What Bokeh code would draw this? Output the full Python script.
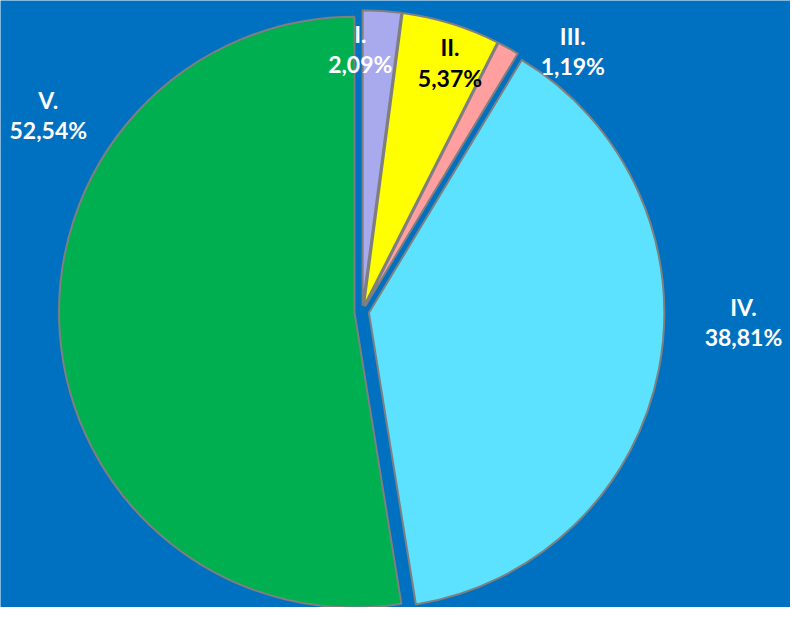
import math
from bokeh.plotting import figure
from bokeh.models import Range1d, ColumnDataSource
from bokeh.core.properties import value
from bokeh.embed import file_html
from bokeh.resources import INLINE

# data
categories = ["I.", "II.", "III.", "IV.", "V."]
shares = [2.09, 5.37, 1.19, 38.81, 52.54]

# styles / layout
colors = ["#A9A9EE", "#FFFF00", "#FF9F9F", "#5CE1FF", "#00B050"]
label_colors = ["white", "black", "white", "white", "white"]
explode = [6, 6, 6, 7, 8]
label_x = [368, 460, 586, 761, 48]
label_y = [34, 48, 36, 314, 102]
BG = "#0070C0"
CX, CY, R = 370, 319, 303  # layout units (y down)

W, H = 790, 607
S = 0.975
p = figure(width=W, height=H, output_backend="svg", toolbar_location=None,
           x_range=Range1d(-1, -1 + W / S), y_range=Range1d(623 - H / S, 623),
           x_axis_type=None, y_axis_type=None, min_border=0)
p.background_fill_color = BG
p.border_fill_color = BG
p.outline_line_color = None
p.grid.visible = False

total = sum(shares)
xs, ys, starts, ends = [], [], [], []
cum = 0.0
for s, d in zip(shares, explode):
    a0 = cum / total * 360.0
    a1 = (cum + s) / total * 360.0
    mid = math.radians((a0 + a1) / 2)
    xs.append(CX + d * math.sin(mid))
    ys.append((623 - CY) + d * math.cos(mid))
    starts.append(math.radians(90 - a1))
    ends.append(math.radians(90 - a0))
    cum += s

src = ColumnDataSource(dict(x=xs, y=ys, start=starts, end=ends, color=colors))
p.wedge(x="x", y="y", radius=R, start_angle="start", end_angle="end",
        fill_color="color", line_color="#7F7F7F", line_width=2, source=src)

pct = [f"{v:.2f}".replace(".", ",") + "%" for v in shares]
lsrc = ColumnDataSource(dict(
    x=label_x, y1=[623 - y for y in label_y], y2=[623 - y - 31 for y in label_y],
    name=categories, pct=pct, c=label_colors))
for ycol, tcol in (("y1", "name"), ("y2", "pct")):
    p.text(x="x", y=ycol, text=tcol, source=lsrc, text_color="c",
           text_font=value("Lato"), text_font_style="bold", text_font_size="23px",
           text_align="center", text_baseline="middle")

html = file_html(p, INLINE)
html = html.replace("<body>", '<body style="background-color:%s;">' % BG, 1)
open("out.html", "w").write(html)
